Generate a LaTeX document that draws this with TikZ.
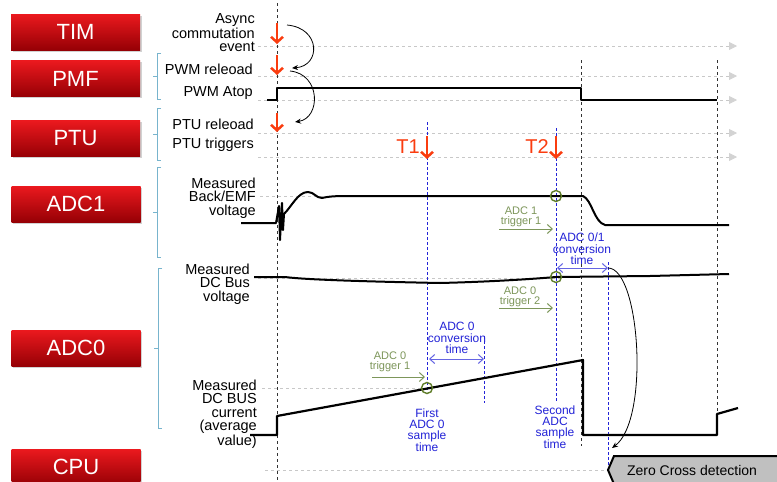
\documentclass[tikz,border=0pt]{standalone}
\usepackage{fontspec}
\setmainfont{Liberation Sans}
\usetikzlibrary{arrows.meta,shadows}
\definecolor{redA}{RGB}{235,25,30}
\definecolor{redB}{RGB}{150,0,5}
\definecolor{brk}{RGB}{120,180,205}
\definecolor{gdc}{RGB}{200,200,200}
\definecolor{arr}{RGB}{250,60,15}
\definecolor{bann}{RGB}{35,35,215}
\definecolor{gann}{RGB}{125,150,90}
\definecolor{gcirc}{RGB}{95,125,40}
\definecolor{zcfill}{RGB}{192,192,192}
\tikzset{
  rbox/.style={minimum width=129pt, minimum height=36pt, inner sep=0pt,
    top color=redA, bottom color=redB, draw=none, text=white,
    font=\fontsize{22}{22}\selectfont, drop shadow={shadow xshift=1.5pt,shadow yshift=-1.5pt,opacity=0.35}},
  lab/.style={anchor=east, align=right, inner sep=0pt, font=\fontsize{14.5}{13.5}\selectfont},
  bracketline/.style={draw=brk, line width=1pt},
  gdash/.style={draw=gdc, line width=0.8pt, dash pattern=on 3pt off 3pt,
    -{Triangle[length=8pt,width=8pt,fill=gdc!80,color=gdc!80]}},
  gdashplain/.style={draw=gdc, line width=0.8pt, dash pattern=on 3pt off 3pt},
  kdash/.style={draw=black!80, line width=0.8pt, dash pattern=on 3pt off 3pt},
  bdash/.style={draw=bann, line width=0.8pt, dash pattern=on 3pt off 2pt},
  sig/.style={draw=black, line width=2.2pt, line join=round},
  redarrow/.style={draw=arr, line width=2.5pt, -{Straight Barb[length=5.5pt,width=12pt,line width=2.5pt]}},
  curvearrow/.style={draw=black, line width=0.8pt, -{Stealth[length=6pt,width=5pt]}},
  garrow/.style={draw=gann, line width=1pt, -{Straight Barb[length=5pt,width=9pt]}},
  barrow/.style={draw=bann!70, line width=1pt, {Straight Barb[length=5pt,width=9pt]}-{Straight Barb[length=5pt,width=9pt]}},
  gtxt/.style={text=gann, align=center, inner sep=0pt, font=\fontsize{11}{10.5}\selectfont},
  btxt/.style={text=bann, align=center, inner sep=0pt, font=\fontsize{12}{11.3}\selectfont},
  gcircle/.style={draw=gcirc, line width=1.4pt, circle, minimum size=11pt, inner sep=0pt},
}
\begin{document}
\begin{tikzpicture}[x=1pt,y=-1pt]
\useasboundingbox[fill=white] (0,0) rectangle (777,482);

% red module boxes
\node[rbox] (tim)  at (75.5,32)  {TIM};
\node[rbox] (pmf)  at (75.5,78.5)  {PMF};
\node[rbox] (ptu)  at (75.5,138.5) {PTU};
\node[rbox] (adc1) at (76,204)   {ADC1};
\node[rbox] (adc0) at (76,348)   {ADC0};
\node[rbox] (cpu)  at (76,467)   {CPU};

% brackets
\draw[bracketline] (161,53) -- (157,53) -- (157,99) -- (161,99) (157,76) -- (153,76);
\draw[bracketline] (161,108) -- (157,108) -- (157,160) -- (161,160) (157,134) -- (153,134);
\draw[bracketline] (161,167) -- (157,167) -- (157,257) -- (161,257) (157,212) -- (153,212);
\draw[bracketline] (162,268) -- (158,268) -- (158,428) -- (162,428) (158,348) -- (154,348);

% labels
\node[lab] (lasync) at (255,33) {Async\\commutation\\event};
\node[lab] (lpwmr) at (253,69) {PWM releoad};
\node[lab] (lpwma) at (253,93) {PWM Atop};
\node[lab] (lptur) at (254,124) {PTU releoad};
\node[lab] (lptut) at (254,145) {PTU triggers};
\node[lab] (lbemf) at (256,198) {Measured\\Back/EMF\\voltage};
\node[lab] (ldcv) at (250,284) {Measured\\DC Bus\\voltage};
\node[lab] (ldci) at (257,414) {Measured\\DC BUS\\current\\(average\\value)};

% gray dashed guide lines
\draw[gdash] (258,46) -- (737,46);
\draw[gdash] (258,76) -- (737,76);
\draw[gdash] (258,100) -- (737,100);
\draw[gdash] (258,133) -- (737,133);
\draw[gdash] (258,157) -- (737,157);
\draw[gdashplain] (260,196) -- (560,196);
\draw[gdashplain] (258,278) -- (560,278);
\draw[gdashplain] (262,388) -- (427,388);
\draw[gdashplain] (265,470) -- (608,470);

% black dashed verticals
\draw[kdash] (277,3) -- (277,482);
\draw[kdash] (581,60) -- (581,446);
\draw[kdash] (717,60) -- (717,414);

% blue dashed verticals
\draw[bdash] (427,122) -- (427,392);
\draw[bdash] (556,128) -- (556,402);
\draw[bdash] (484,336) -- (484,403);
\draw[bdash] (608,262) -- (608,470);

% signals
\draw[sig] (267,100) -- (277,100) -- (277,88) -- (581,88) -- (581,100) -- (717,100);
\draw[sig, line width=2pt] (241,223) -- (276,223) -- (279,206) -- (280,240) -- (282,203) -- (283,230) -- (284,214)
  .. controls (292,206) and (298,192) .. (308,192)
  .. controls (314,192) and (316,198) .. (322,198)
  .. controls (330,196) and (340,196) .. (350,196) -- (583,196)
  .. controls (592,200) and (594,222) .. (605,225) -- (729,225);
\draw[sig, line width=2pt] (254,277) -- (285,277) .. controls (300,279) and (340,281) .. (440,283)
  .. controls (480,282) and (520,280) .. (556,277) -- (650,276) -- (729,274);
\draw[sig] (250,435) -- (277,435) -- (277,416) -- (583,360) -- (583,435) -- (717,435) -- (717,414) -- (738,408);

% red event arrows
\draw[redarrow] (277,23) -- (277,44);
\draw[redarrow] (277,55) -- (277,75);
\draw[redarrow] (277,113) -- (277,132);
\draw[redarrow] (427,136) -- (427,159);
\draw[redarrow] (556,136) -- (556,159);
\node[text=arr, inner sep=0pt, font=\fontsize{20}{20}\selectfont] (t1) at (408,147) {T1};
\node[text=arr, inner sep=0pt, font=\fontsize{20}{20}\selectfont] (t2) at (537,147) {T2};

% curved black arrows
\draw[curvearrow] (287,25) .. controls (321,28) and (321,66) .. (292,68);
\draw[curvearrow] (290,71) .. controls (321,74) and (321,118) .. (295,122);
\draw[curvearrow] (608,268) .. controls (640,268) and (650,420) .. (612,448);

% green sample circles
\node[gcircle] (c1) at (556,196) {};
\node[gcircle] (c2) at (556,277) {};
\node[gcircle] (c3) at (427,388) {};

% green trigger annotations
\node[gtxt] (g1) at (521,217) {ADC 1\\trigger 1};
\coordinate (g1a) at (499,229);
\coordinate (g1b) at (553,229);
\draw[garrow] (g1a) -- (g1b);
\node[gtxt] (g2) at (520,297) {ADC 0\\trigger 2};
\coordinate (g2a) at (499,308);
\coordinate (g2b) at (553,308);
\draw[garrow] (g2a) -- (g2b);
\node[gtxt] (g3) at (390,362) {ADC 0\\trigger 1};
\coordinate (g3a) at (372,377);
\coordinate (g3b) at (425,377);
\draw[garrow] (g3a) -- (g3b);

% blue conversion annotations
\node[btxt] (b1) at (457,338) {ADC 0\\conversion\\time};
\coordinate (b1a) at (429,359);
\coordinate (b1b) at (484,359);
\draw[barrow] (b1a) -- (b1b);
\node[btxt] (b2) at (582,249) {ADC 0/1\\conversion\\time};
\coordinate (b2a) at (557,268);
\coordinate (b2b) at (608,268);
\draw[barrow] (b2a) -- (b2b);
\node[btxt] (s1) at (427,430) {First\\ADC 0\\sample\\time};
\node[btxt] (s2) at (555,427) {Second\\ADC\\sample\\time};

% zero cross detection box
\draw[fill=zcfill, line width=2pt, line join=miter] (608,470) -- (614,456) -- (790,456) -- (790,484) -- (614,484) -- cycle;
\node[inner sep=0pt, font=\fontsize{14}{14}\selectfont] (zc) at (692,470) {Zero Cross detection};
\end{tikzpicture}
\end{document}
